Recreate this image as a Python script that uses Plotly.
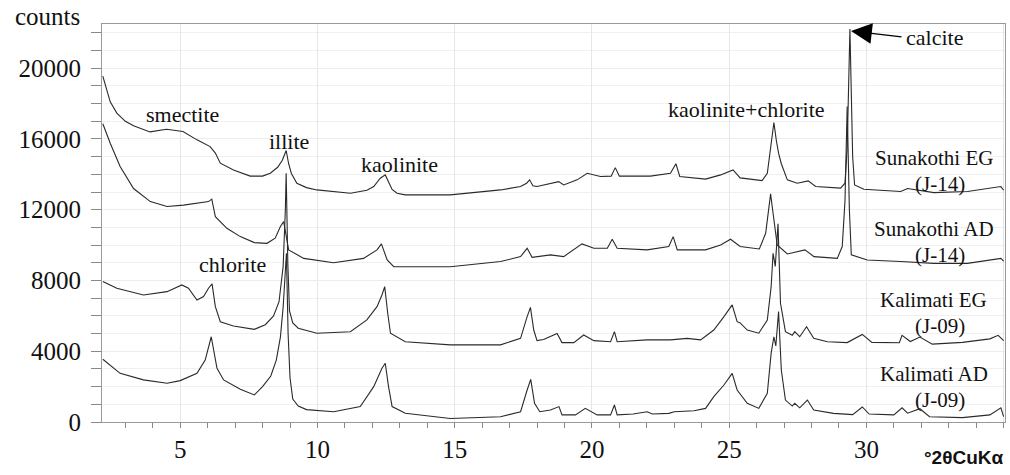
import plotly.graph_objects as go

# ---- data: (2theta, counts) pairs ----
sunakothi_eg = [
    (2.18, 19550), (2.3, 18900), (2.45, 18100), (2.69, 17460), (3.0, 17000), (3.3, 16750),
    (3.9, 16400), (4.5, 16550), (5.1, 16420), (5.61, 15950), (6.09, 15570), (6.28, 15200),
    (6.46, 14630), (6.94, 14250), (7.55, 13900), (8.0, 13900), (8.28, 14060), (8.55, 14400),
    (8.72, 14800), (8.86, 15350), (8.95, 14600), (9.05, 14050), (9.25, 13500), (9.6, 13250),
    (9.98, 13120), (11.2, 12930), (11.8, 13100), (12.05, 13310), (12.29, 13780), (12.47, 13970),
    (12.6, 13500), (12.72, 13150), (12.9, 12930), (13.2, 12840), (14.84, 12840),
    (16.67, 13120), (17.4, 13310), (17.62, 13500), (17.73, 13690), (17.85, 13350), (18.0, 13310),
    (18.49, 13500), (18.79, 13590), (18.97, 13400), (19.46, 13690), (19.83, 14060), (20.31, 13880),
    (20.7, 13900), (20.85, 14380), (21.0, 13900), (22.13, 13900), (22.86, 14060), (23.06, 14600),
    (23.2, 13880), (24.14, 13730), (24.69, 13970), (25.14, 14250), (25.4, 13800), (26.2, 13650),
    (26.39, 14060), (26.51, 15570), (26.63, 16930), (26.72, 15900), (26.8, 15200), (26.9, 14600),
    (27.12, 13690), (27.48, 13500), (27.88, 13630), (28.15, 13310), (29.06, 13220), (29.22, 13500),
    (29.3, 15500), (29.4, 22210), (29.5, 15000), (29.57, 13400), (29.91, 13160),
    (31.25, 13030), (31.5, 13200), (32.46, 12970), (33.68, 13030), (34.9, 13310), (35.0, 13100),
]

sunakothi_ad = [
    (2.18, 16860), (2.45, 15760), (2.81, 14440), (3.3, 13200), (3.91, 12460), (4.52, 12180),
    (5.12, 12260), (5.73, 12370), (6.03, 12460), (6.15, 12600), (6.28, 11610), (6.7, 10950),
    (7.19, 10480), (7.7, 10140), (8.16, 10100), (8.46, 10390), (8.65, 11050), (8.77, 11330),
    (8.88, 10300), (8.95, 9730), (9.5, 9250), (10.59, 9000), (11.68, 9250), (12.17, 9730),
    (12.33, 10070), (12.45, 9600), (12.54, 9160), (12.78, 8780), (13.2, 8780), (14.84, 8780),
    (16.67, 9070), (17.4, 9350), (17.64, 9820), (17.82, 9310), (18.49, 9450), (18.97, 9350),
    (19.64, 10070), (20.07, 9820), (20.56, 9820), (20.74, 10330), (20.92, 9820), (22.01, 9730),
    (22.8, 9920), (22.96, 10480), (23.11, 9730), (24.14, 9730), (24.69, 10010), (25.05, 10330),
    (25.4, 9920), (26.1, 9780), (26.33, 10670), (26.51, 12900), (26.6, 11800), (26.66, 11050),
    (26.75, 10010), (27.12, 9500), (27.76, 9730), (28.09, 9350), (28.94, 9250), (29.12, 9920),
    (29.22, 12500), (29.3, 17830), (29.38, 12000), (29.45, 9450), (30.03, 9160),
    (31.25, 9070), (32.46, 8970), (33.68, 8970), (34.9, 9250), (35.0, 9100),
]

kalimati_eg = [
    (2.18, 7940), (2.69, 7560), (3.66, 7180), (4.52, 7370), (5.06, 7750), (5.3, 7560),
    (5.61, 6900), (5.85, 7090), (6.03, 7560), (6.16, 7810), (6.28, 6520), (6.46, 5670),
    (6.94, 5430), (7.7, 5240), (8.1, 5500), (8.4, 6000), (8.6, 6800), (8.75, 8800),
    (8.83, 12000), (8.86, 14060), (8.92, 9000), (8.98, 6300), (9.1, 5600), (9.3, 5300),
    (9.98, 5020), (11.2, 5100), (11.8, 5770), (12.17, 6520), (12.35, 7180), (12.45, 7650),
    (12.56, 6150), (12.66, 5020), (13.2, 4540), (14.84, 4360), (16.67, 4360), (17.4, 4730),
    (17.64, 5960), (17.76, 6480), (17.88, 5200), (18.0, 4600), (18.24, 4660), (18.49, 4820),
    (18.73, 5010), (18.91, 4490), (19.34, 4490), (19.7, 4920), (20.07, 4600), (20.68, 4540),
    (20.82, 5110), (20.92, 4540), (22.01, 4640), (22.86, 4640), (23.47, 4730), (23.96, 4640),
    (24.44, 5200), (24.81, 5960), (25.11, 6620), (25.29, 5670), (25.4, 5600), (25.66, 5200),
    (26.08, 5020), (26.39, 5770), (26.53, 7650), (26.6, 9540), (26.68, 8800), (26.78, 11200),
    (26.87, 6710), (27.05, 5110), (27.3, 4900), (27.39, 5110), (27.57, 4820), (27.82, 5390),
    (28.08, 4730), (28.58, 4540), (29.3, 4490), (29.85, 4950), (30.2, 4500), (31.2, 4480),
    (31.3, 4900), (31.6, 4550), (31.95, 4800), (32.4, 4400), (33.5, 4500), (34.5, 4700),
    (34.8, 4900), (35.0, 4600),
]

kalimati_ad = [
    (2.18, 3550), (2.81, 2750), (3.66, 2380), (4.52, 2190), (5.0, 2340), (5.61, 2750),
    (5.91, 3500), (6.13, 4820), (6.34, 3040), (6.58, 2380), (7.19, 1850), (7.7, 1530),
    (8.0, 2000), (8.3, 2600), (8.5, 3500), (8.65, 4800), (8.75, 6500), (8.83, 9000),
    (8.87, 9540), (8.93, 5000), (9.0, 2500), (9.1, 1300), (9.3, 900), (9.6, 700),
    (10.59, 580), (11.56, 870), (12.05, 2000), (12.35, 3040), (12.47, 3320), (12.59, 2000),
    (12.72, 870), (13.2, 490), (14.84, 200), (16.67, 300), (17.4, 580), (17.64, 1810),
    (17.77, 2410), (17.91, 1060), (18.1, 580), (18.49, 680), (18.8, 870), (18.91, 400),
    (19.4, 400), (19.76, 770), (20.19, 400), (20.68, 400), (20.82, 960), (20.92, 400),
    (21.5, 450), (22.01, 580), (22.2, 450), (22.8, 490), (23.0, 580), (23.72, 640),
    (24.14, 770), (24.44, 1430), (24.81, 2090), (25.11, 2750), (25.29, 1810), (25.66, 1060),
    (26.08, 770), (26.39, 1620), (26.53, 3890), (26.63, 4820), (26.7, 4300), (26.8, 6240),
    (26.9, 2940), (27.05, 1240), (27.3, 900), (27.39, 1060), (27.57, 800), (27.85, 1240),
    (28.08, 680), (28.8, 490), (29.5, 420), (29.85, 850), (30.1, 450), (31.0, 400),
    (31.3, 800), (31.5, 500), (31.95, 750), (32.3, 300), (33.5, 250), (34.5, 400),
    (34.9, 800), (35.0, 300),
]

series = [
    ("Sunakothi EG (J-14)", sunakothi_eg),
    ("Sunakothi AD (J-14)", sunakothi_ad),
    ("Kalimati EG (J-09)", kalimati_eg),
    ("Kalimati AD (J-09)", kalimati_ad),
]

y_tick_values = [0, 4000, 8000, 12000, 16000, 20000]
x_tick_values = [5, 10, 15, 20, 25, 30, 35]

# mineral labels: (text, 2theta, counts)
mineral_labels = [
    ("smectite", 5.07, 17360),
    ("illite", 8.97, 15840),
    ("kaolinite", 12.98, 14540),
    ("kaolinite+chlorite", 25.63, 17650),
    ("chlorite", 6.9, 8880),
    ("calcite", 32.49, 21720),
]
# sample labels: (sample name, code, 2theta of name, 2theta of code, counts of gap between lines)
sample_labels = [
    ("Sunakothi EG", "(J-14)", 32.45, 32.67, 14170),
    ("Sunakothi AD", "(J-14)", 32.45, 32.67, 10180),
    ("Kalimati EG", "(J-09)", 32.45, 32.67, 6150),
    ("Kalimati AD", "(J-09)", 32.45, 32.67, 1980),
]

SERIF = "Liberation Serif"

fig = go.Figure()
for name, pts in series:
    fig.add_trace(go.Scatter(
        x=[p[0] for p in pts], y=[p[1] for p in pts], mode="lines", name=name,
        line=dict(color="#2a2a2a", width=1.1), showlegend=False,
    ))

annotations = []
for text, x, y in mineral_labels:
    annotations.append(dict(x=x, y=y, xref="x", yref="y", text=text, showarrow=False,
                            font=dict(family=SERIF, size=22, color="#111")))
for name, code, xn, xc, y in sample_labels:
    annotations.append(dict(x=xn, y=y, xref="x", yref="y", text=name, showarrow=False,
                            yanchor="bottom", borderpad=0,
                            font=dict(family=SERIF, size=21, color="#111")))
    annotations.append(dict(x=xc, y=y, xref="x", yref="y", text=code, showarrow=False,
                            yanchor="top", borderpad=0,
                            font=dict(family=SERIF, size=21, color="#111")))
# calcite arrow
annotations.append(dict(x=29.44, y=22100, xref="x", yref="y", text="", showarrow=True,
                        ax=52, ay=6, arrowhead=2, arrowsize=3.2, arrowwidth=1.3,
                        arrowcolor="#000"))
annotations.append(dict(x=-0.022, y=1.018, xref="paper", yref="paper", text="counts",
                        showarrow=False, xanchor="right", yanchor="middle",
                        font=dict(family=SERIF, size=25, color="#111")))
annotations.append(dict(x=1.0, y=-0.088, xref="paper", yref="paper", text="°2θCuKα",
                        showarrow=False, xanchor="right", yanchor="middle",
                        font=dict(family="Liberation Sans", size=19,
                                  color="#111", weight="bold")))

fig.update_layout(
    width=1010, height=475,
    margin=dict(l=102, r=5, t=24, b=53),
    paper_bgcolor="white", plot_bgcolor="white",
    annotations=annotations,
    xaxis=dict(range=[2.15, 35.05], tickvals=x_tick_values, ticks="outside", ticklen=5,
               tickcolor="#888", showline=True, linecolor="#999", mirror=True,
               showgrid=True, gridcolor="#e6e6e6", zeroline=False,
               tickfont=dict(family=SERIF, size=25, color="#111"),
               minor=dict(dtick=1, tick0=0, ticks="outside", ticklen=5, tickcolor="#888",
                          showgrid=False)),
    yaxis=dict(range=[0, 22500], tickvals=y_tick_values, tickformat="d", ticks="outside",
               ticklen=10, tickcolor="#888", showline=True, linecolor="#999", mirror=True,
               showgrid=True, gridcolor="#ececec", zeroline=False,
               tickfont=dict(family=SERIF, size=25, color="#111"), ticklabelstandoff=5,
               minor=dict(dtick=1000, tick0=0, ticks="outside", ticklen=10, tickcolor="#888",
                          showgrid=True, gridcolor="#f0f0f0")),
)

fig.write_html("out.html")
